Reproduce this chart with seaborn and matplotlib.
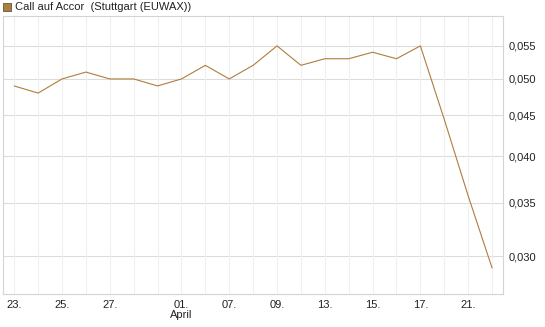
import numpy as np
import pandas as pd
import matplotlib
matplotlib.use("Agg")
import matplotlib.pyplot as plt
from matplotlib.ticker import FixedLocator, FuncFormatter, NullLocator
from matplotlib.patches import Rectangle
import seaborn as sns

# Daily trading positions and their date labels (only some are labelled)
tick_labels = ["23.", "", "25.", "", "27.", "", "", "01.", "", "07.", "",
               "09.", "", "13.", "", "15.", "", "17.", "", "21.", ""]
month_label = "April"
month_pos = 7

prices = [0.049, 0.048, 0.050, 0.051, 0.050, 0.050, 0.049, 0.050, 0.052, 0.050,
          0.052, 0.055, 0.052, 0.053, 0.053, 0.054, 0.053, 0.055, 0.0445, 0.0357,
          0.029]
y_ticks = [0.030, 0.035, 0.040, 0.045, 0.050, 0.055]

title = "Call auf Accor  (Stuttgart (EUWAX))"
line_color = "#b07d3a"

df = pd.DataFrame({"pos": np.arange(len(prices)), "price": prices})

sns.set_style("white")
plt.rcParams["font.family"] = ["Liberation Sans", "DejaVu Sans"]

fig = plt.figure(figsize=(5.45, 3.27), dpi=100)
ax = fig.add_axes([0.0055, 0.101, 0.9175, 0.851])

sns.lineplot(data=df, x="pos", y="price", ax=ax, color=line_color, linewidth=0.8)

ax.set_yscale("log")
ax.set_ylim(0.0269, 0.0600)
ax.set_xlim(-0.47, len(prices) - 1 + 0.46)

ax.yaxis.set_major_locator(FixedLocator(y_ticks))
ax.yaxis.set_minor_locator(NullLocator())
ax.yaxis.set_major_formatter(FuncFormatter(lambda v, p: f"{v:.3f}".replace(".", ",")))
ax.yaxis.tick_right()
ax.tick_params(axis="y", length=0, pad=4, labelsize=8, colors="#222222")

ax.set_xticks(df["pos"])
ax.set_xticklabels(tick_labels)
ax.tick_params(axis="x", length=3, width=0.8, color="#dddddd", pad=1.5,
               labelsize=8, labelcolor="#222222")
ax.text(month_pos, -0.075, month_label, transform=ax.get_xaxis_transform(),
        ha="center", va="center", fontsize=8, color="#222222")

ax.set_xlabel("")
ax.set_ylabel("")

# grid: horizontal slightly darker than vertical
for v in y_ticks:
    ax.axhline(v, color="#dcdcdc", linewidth=0.8, zorder=0)
for p in df["pos"]:
    ax.axvline(p, color="#efefef", linewidth=0.8, zorder=0)

for s in ax.spines.values():
    s.set_color("#d4d4d4")
    s.set_linewidth(0.8)

# title with small legend square
fig.patches.append(Rectangle((3 / 545, 1 - 10.5 / 327), 7.5 / 545, 7.5 / 327,
                             transform=fig.transFigure, facecolor=line_color,
                             edgecolor="#555555", linewidth=0.6))
fig.text(15 / 545, 1 - 6.8 / 327, title, ha="left", va="center", fontsize=8,
         color="#222222")

fig.savefig("out.png", dpi=100)
